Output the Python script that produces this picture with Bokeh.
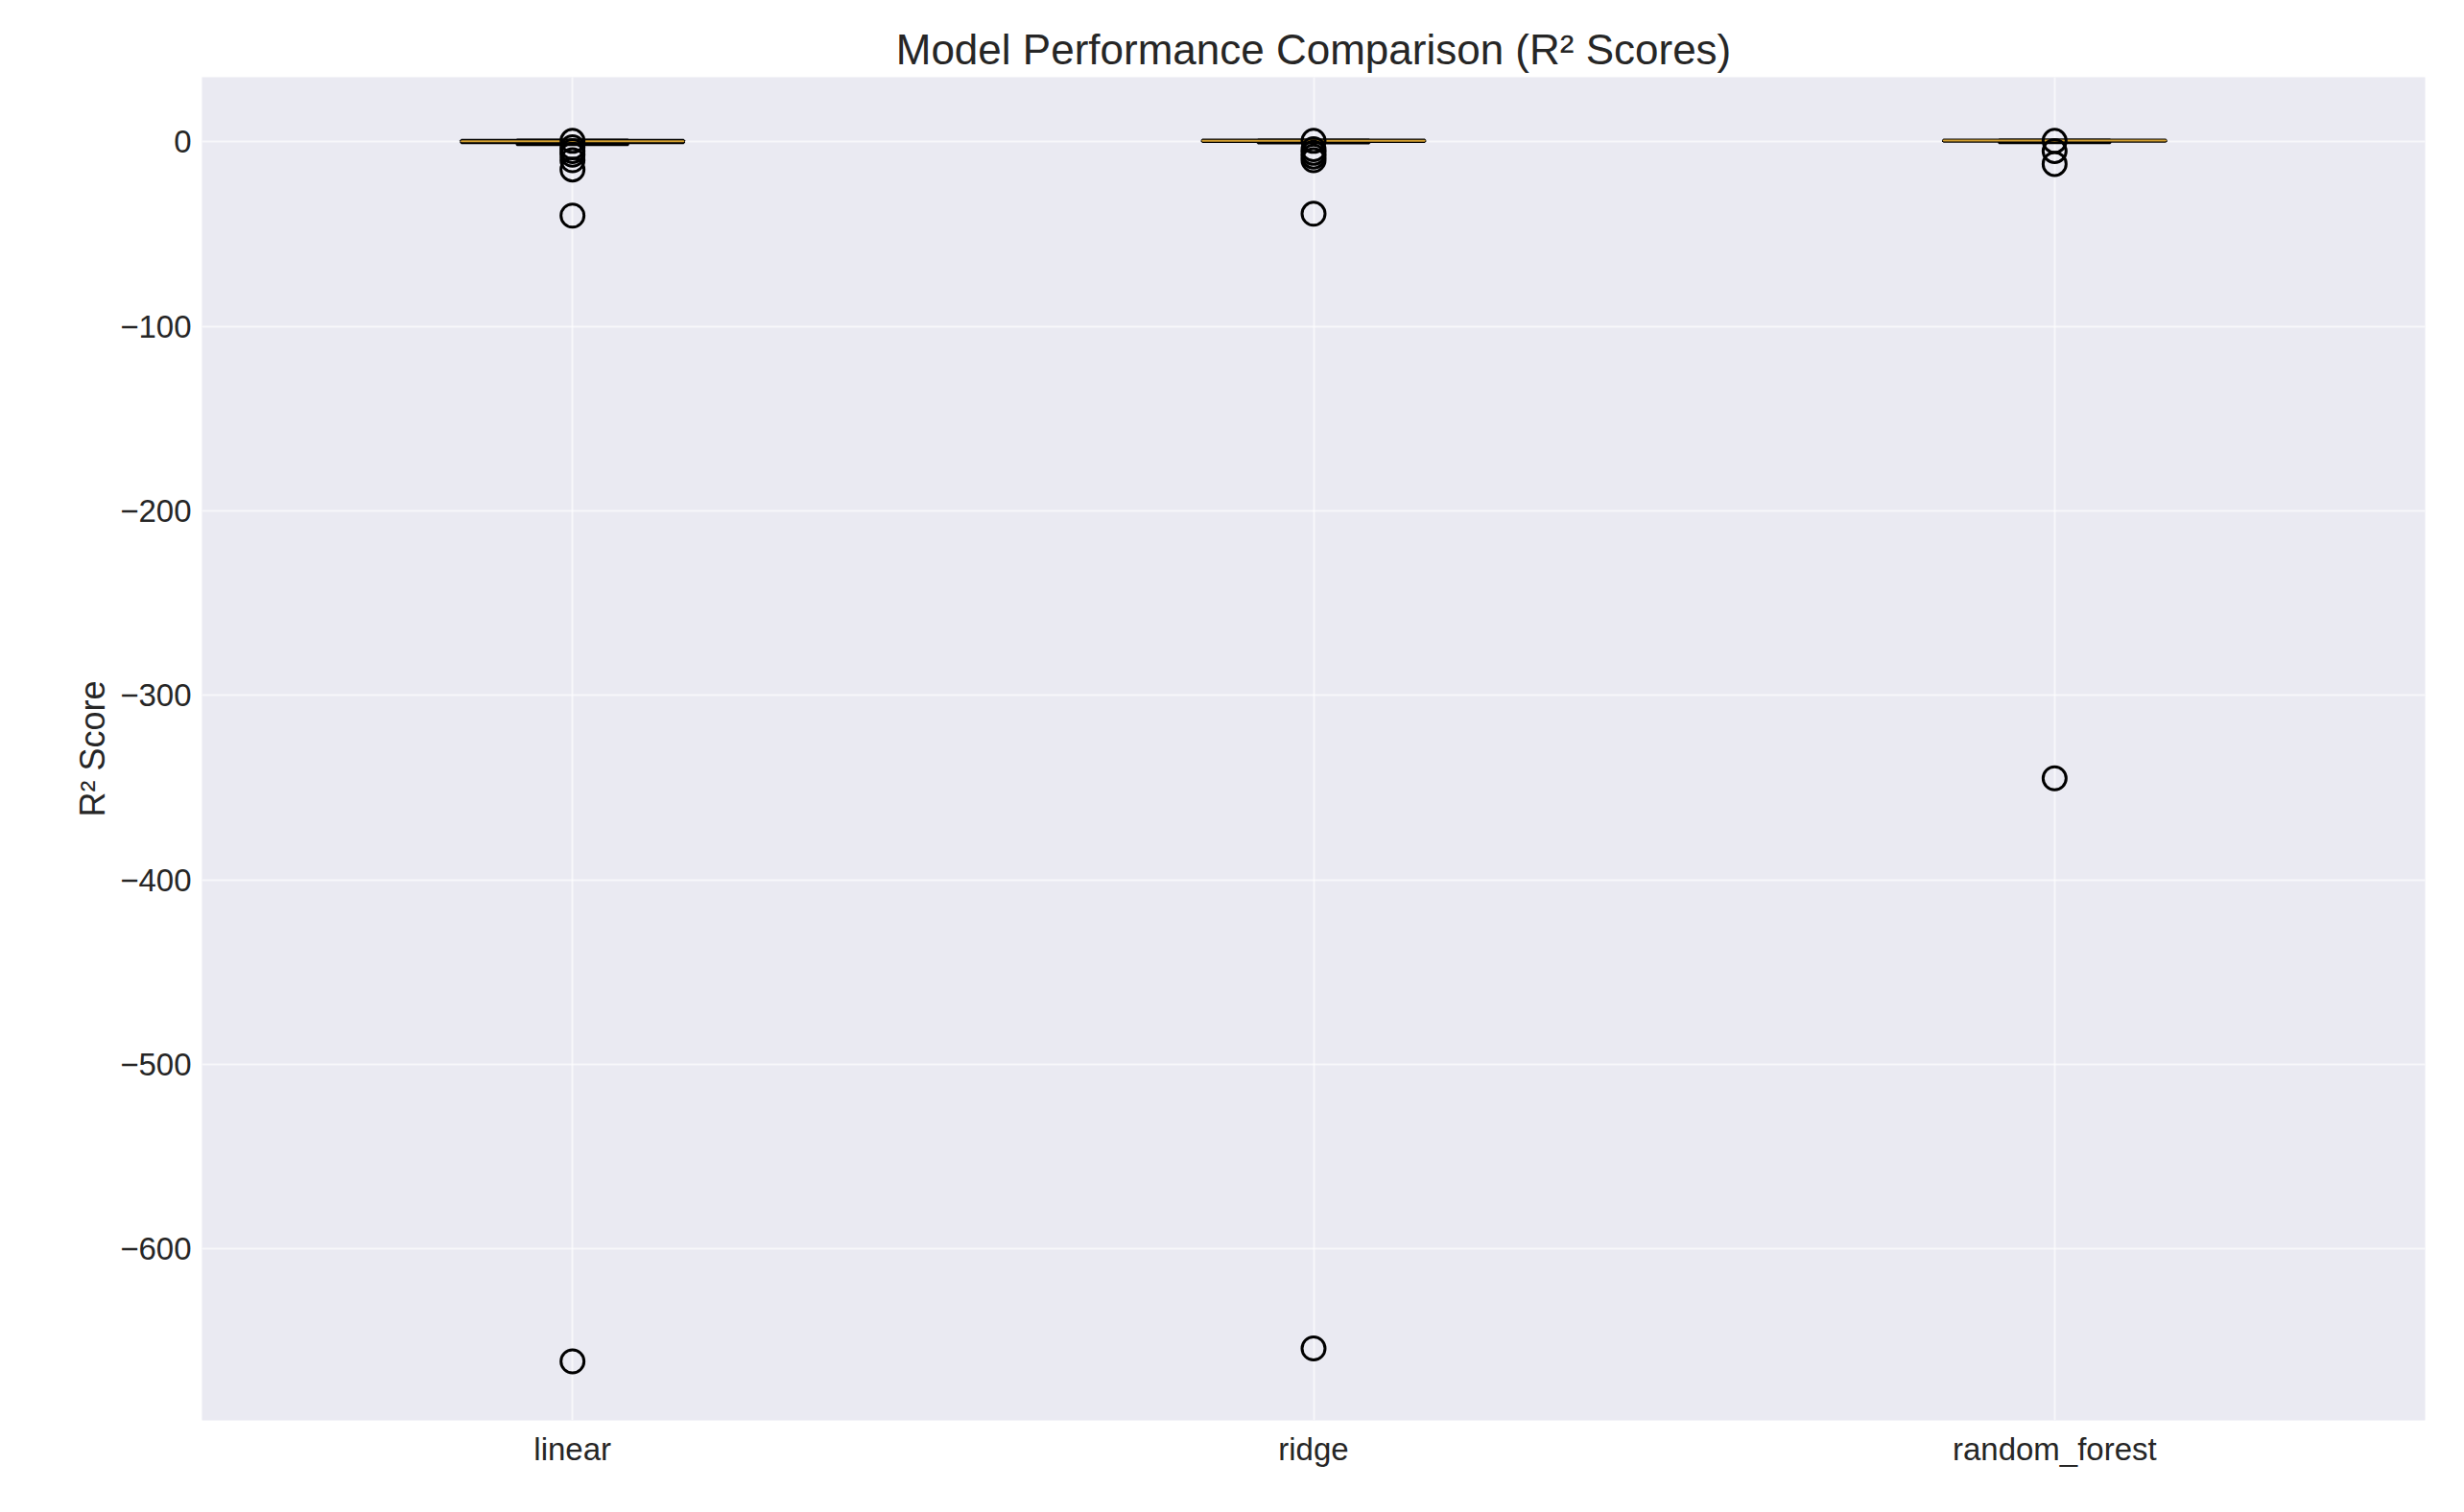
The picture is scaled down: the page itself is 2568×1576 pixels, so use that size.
from bokeh.plotting import figure
from bokeh.models import ColumnDataSource, Range1d, FixedTicker
from bokeh.embed import file_html
from bokeh.resources import INLINE

# box statistics
models = ["linear", "ridge", "random_forest"]
positions = [1, 2, 3]
q1 = [-0.5, 0.2, 0.3]
median = [0.3, 0.6, 0.7]
q3 = [0.8, 0.9, 0.95]
whisker_lo = [-1.5, -0.6, -0.5]
whisker_hi = [0.99, 0.99, 0.99]

outlier_model = [1, 1, 1, 1, 1, 1, 1, 1,
                 2, 2, 2, 2, 2, 2, 2,
                 3, 3, 3, 3]
outlier_value = [0.5, -3, -5, -7, -10, -15, -40, -661,
                 0.5, -4, -6, -8, -10, -39, -654,
                 0.5, -5, -12, -345]

FONT = "Liberation Sans"

p = figure(width=2552, height=1560, output_backend="svg", toolbar_location=None,
           x_range=Range1d(0.5, 3.5), y_range=Range1d(-693, 35),
           title="Model Performance Comparison (R² Scores)",
           background_fill_color="#eaeaf2", border_fill_color="white",
           min_border_left=210, min_border_right=25, min_border_top=80, min_border_bottom=80)
p.title.align = "center"
p.title.text_font = FONT
p.title.text_font_size = "44px"
p.title.text_font_style = "normal"
p.title.text_color = "#262626"

p.outline_line_color = None
p.xgrid.grid_line_color = "white"
p.ygrid.grid_line_color = "white"
p.xgrid.grid_line_alpha = 0.6
p.ygrid.grid_line_alpha = 0.6
p.grid.grid_line_width = 2

for ax in (p.xaxis, p.yaxis):
    ax.axis_line_color = None
    ax.major_tick_line_color = None
    ax.minor_tick_line_color = None
    ax.major_label_text_font = FONT
    ax.major_label_text_font_size = "33px"
    ax.major_label_text_color = "#262626"

p.xaxis.ticker = FixedTicker(ticks=positions)
p.xaxis.major_label_overrides = {pos: m for pos, m in zip(positions, models)}
p.yaxis.ticker = FixedTicker(ticks=[0, -100, -200, -300, -400, -500, -600])
p.yaxis.major_label_overrides = {t: ("0" if t == 0 else "\u2212" + str(-t)) for t in [0, -100, -200, -300, -400, -500, -600]}
p.yaxis.axis_label = "R² Score"
p.yaxis.axis_label_text_font = FONT
p.yaxis.axis_label_text_font_size = "36px"
p.yaxis.axis_label_text_font_style = "normal"
p.yaxis.axis_label_text_color = "#262626"

src = ColumnDataSource(dict(x=positions, q1=q1, q3=q3, med=median, lo=whisker_lo, hi=whisker_hi))
box_w = 0.3
p.segment(x0="x", y0="lo", x1="x", y1="q1", source=src, line_color="black", line_width=3)
p.segment(x0="x", y0="q3", x1="x", y1="hi", source=src, line_color="black", line_width=3)
p.rect(x="x", y="lo", width=box_w / 2, height=0.01, source=src, line_color="black", line_width=3)
p.rect(x="x", y="hi", width=box_w / 2, height=0.01, source=src, line_color="black", line_width=3)
p.vbar(x="x", bottom="q1", top="q3", width=box_w, source=src,
       fill_color="#b8962e", line_color="black", line_width=3)
p.rect(x="x", y="med", width=box_w, height=0.01, source=src, line_color="#d4a030", line_width=2)

p.scatter(x=outlier_model, y=outlier_value, size=24, fill_color=None,
          line_color="black", line_width=3)

open("out.html", "w").write(file_html(p, INLINE))
